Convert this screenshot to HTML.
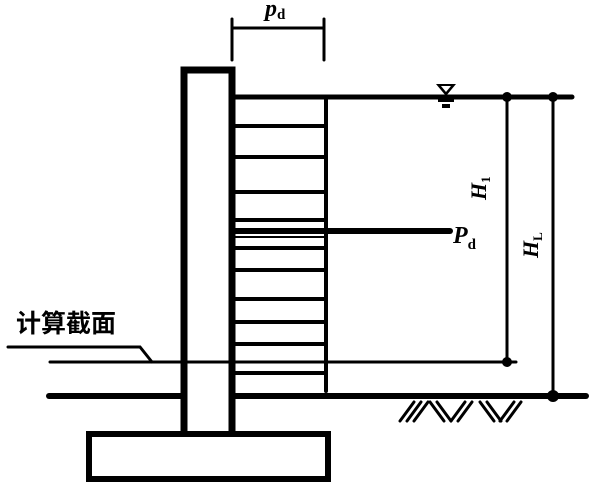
<!DOCTYPE html>
<html><head><meta charset="utf-8"><style>
html,body{margin:0;padding:0;background:#fff;width:600px;height:493px;overflow:hidden}
svg{display:block}
text{font-family:"Liberation Serif","Noto Serif CJK SC",serif;font-style:italic;font-weight:bold;fill:#000}
</style></head><body>
<svg width="600" height="493" viewBox="0 0 600 493" xmlns="http://www.w3.org/2000/svg">
<g stroke="#000" fill="none" stroke-linecap="round">
<polyline points="184,433 184,70 232,70 232,433" stroke-width="7"/>
<rect x="89" y="434" width="239" height="45" stroke-width="6"/>
<line x1="326" y1="97" x2="326" y2="391" stroke-width="4"/>
<line x1="232" y1="97" x2="572" y2="97" stroke-width="5"/>
<g stroke-width="4">
<line x1="234" y1="126" x2="324" y2="126"/>
<line x1="234" y1="157" x2="324" y2="157"/>
<line x1="234" y1="192" x2="324" y2="192"/>
<line x1="234" y1="220" x2="324" y2="220"/>
<line x1="234" y1="248" x2="324" y2="248"/>
<line x1="234" y1="270" x2="324" y2="270"/>
<line x1="234" y1="299" x2="324" y2="299"/>
<line x1="234" y1="322" x2="324" y2="322"/>
<line x1="234" y1="344" x2="324" y2="344"/>
<line x1="234" y1="373" x2="324" y2="373"/>
</g>
<line x1="234" y1="237" x2="324" y2="237" stroke-width="2"/>
<line x1="234" y1="231" x2="450" y2="231" stroke-width="6"/>
<line x1="49" y1="396" x2="182" y2="396" stroke-width="6"/>
<line x1="234" y1="396" x2="586" y2="396" stroke-width="6"/>
<line x1="50" y1="362" x2="516" y2="362" stroke-width="3"/>
<polyline points="8,347 140,347 152,362" stroke-width="3"/>
<line x1="507" y1="97" x2="507" y2="362" stroke-width="3"/>
<line x1="553" y1="97" x2="553" y2="396" stroke-width="3"/>
<line x1="232" y1="19" x2="232" y2="60" stroke-width="3"/>
<line x1="324" y1="19" x2="324" y2="60" stroke-width="3"/>
<line x1="232" y1="28" x2="324" y2="28" stroke-width="3"/>
<g stroke-width="3">
<line x1="400" y1="421" x2="414" y2="402"/><line x1="407" y1="421" x2="421" y2="402"/><line x1="414" y1="421" x2="428" y2="402"/>
<line x1="430" y1="402" x2="444" y2="421"/><line x1="437" y1="402" x2="451" y2="421"/>
<line x1="451" y1="421" x2="465" y2="402"/><line x1="458" y1="421" x2="472" y2="402"/>
<line x1="480" y1="402" x2="494" y2="421"/><line x1="487" y1="402" x2="501" y2="421"/>
<line x1="500" y1="421" x2="514" y2="402"/><line x1="507" y1="421" x2="521" y2="402"/>
</g>
</g>
<polygon points="436,84 456,84 446,96" fill="#000"/>
<polygon points="441,86 451,86 446,92" fill="#fff"/>
<rect x="438" y="99" width="16" height="3" fill="#000"/>
<rect x="442" y="104" width="8" height="4" fill="#000"/>
<circle cx="507" cy="97" r="5" fill="#000"/>
<circle cx="553" cy="97" r="5" fill="#000"/>
<circle cx="507" cy="362" r="5" fill="#000"/>
<circle cx="553" cy="396" r="6" fill="#000"/>
<text x="265" y="16" font-size="24">p<tspan font-size="15" font-style="normal" dy="3">d</tspan></text>
<text x="453" y="243" font-size="24">P<tspan font-size="15" font-style="normal" dy="6">d</tspan></text>
<text transform="translate(486,200) rotate(-90)" font-size="22">H<tspan font-size="13" font-style="normal" dy="4">1</tspan></text>
<text transform="translate(538,258) rotate(-90)" font-size="22">H<tspan font-size="13" font-style="normal" dy="4">L</tspan></text>
<text x="16" y="332" font-size="25" style="font-family:'Noto Sans CJK SC',sans-serif;font-style:normal;font-weight:bold">计算截面</text>
</svg>
</body></html>
